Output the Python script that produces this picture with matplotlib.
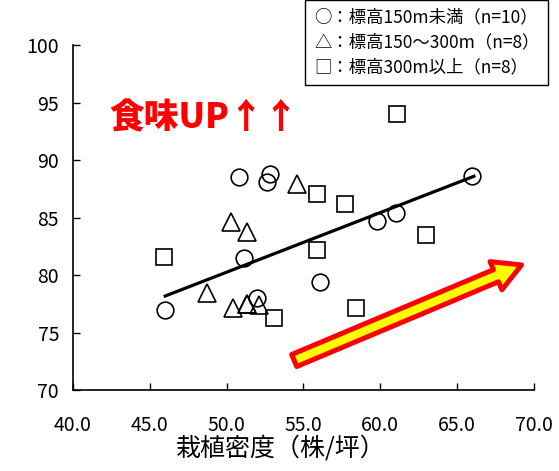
import numpy as np
import matplotlib
matplotlib.use("Agg")
import matplotlib.pyplot as plt

plt.rcParams['font.family'] = ['Noto Sans CJK JP', 'DejaVu Sans']

# 標高150m未満 (circles)
low_x = [46.0, 50.8, 52.6, 52.8, 51.1, 52.0, 56.1, 59.8, 61.0, 66.0]
low_y = [77.0, 88.5, 88.1, 88.8, 81.5, 78.0, 79.4, 84.7, 85.4, 88.6]
# 標高150~300m (triangles)
mid_x = [50.3, 51.3, 48.7, 50.4, 51.3, 52.1, 54.6, 51.3]
mid_y = [84.6, 83.8, 78.5, 77.2, 77.5, 77.4, 87.9, 77.5]
# 標高300m以上 (squares)
high_x = [45.9, 53.1, 55.9, 57.7, 55.9, 63.0, 58.4, 61.1]
high_y = [81.6, 76.3, 87.1, 86.2, 82.2, 83.5, 77.2, 94.0]
# trend line end points
line_x = [46.0, 66.1]
line_y = [78.2, 88.6]

legend_lines = ['○：標高150m未満（n=10）',
                '△：標高150～300m（n=8）',
                '□：標高300m以上（n=8）']
xlabel = '栽植密度（株/坪）'

fig = plt.figure(figsize=(5.59, 4.71), dpi=100)
ax = fig.add_axes([0.1306, 0.171, 0.8244, 0.7335])

mk = dict(linestyle='none', markerfacecolor='none', markeredgecolor='black',
          markeredgewidth=1.2)
ax.plot(line_x, line_y, color='black', lw=2.3, zorder=2)
ax.plot(low_x, low_y, marker='o', markersize=12, **mk, zorder=3)
ax.plot(mid_x, mid_y, marker='^', markersize=13, **mk, zorder=3)
ax.plot(high_x, high_y, marker='s', markersize=12, **mk, zorder=3)

ax.set_xlim(40, 70)
ax.set_ylim(70, 100)
ax.set_xticks(np.arange(40, 71, 5))
ax.set_yticks(np.arange(70, 101, 5))
ax.set_xticklabels([f'{v:.1f}' for v in np.arange(40, 71, 5)])
ax.tick_params(direction='in', length=5, width=1, labelsize=14)
ax.tick_params(axis='x', pad=18)
ax.tick_params(axis='y', pad=10)
for s in ['top', 'right']:
    ax.spines[s].set_visible(False)
for s in ['left', 'bottom']:
    ax.spines[s].set_linewidth(1.2)
ax.set_xlabel(xlabel, fontsize=18)
ax.xaxis.set_label_coords(0.45, -0.13)

# arrow
ax.annotate('', xy=(69.2, 80.9), xytext=(54.4, 72.6),
            arrowprops=dict(arrowstyle='simple,head_length=1.0,head_width=1.1,tail_width=0.47',
                            mutation_scale=20, fc='yellow', ec='red', lw=3.6,
                            shrinkA=0, shrinkB=0))

ax.text(0.08, 0.79, '食味UP↑↑', transform=ax.transAxes, color='red',
        fontsize=25, fontweight='heavy', ha='left', va='center')

fig.text(0.562, 0.982, '\n'.join(legend_lines), fontsize=12.5, ha='left', va='top',
         linespacing=1.5,
         bbox=dict(boxstyle='square,pad=0.5', fc='white', ec='black', lw=1))

fig.savefig('out.png', dpi=100)
